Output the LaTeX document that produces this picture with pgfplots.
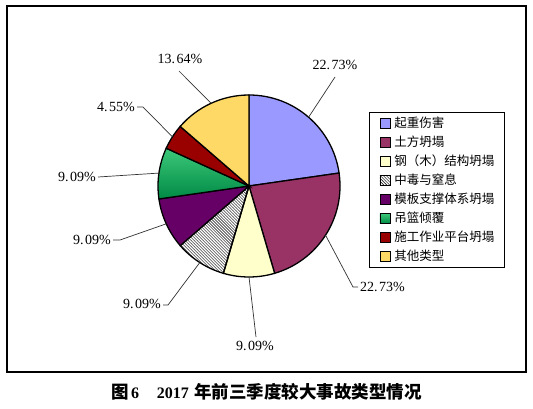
\documentclass[border=0pt]{standalone}
\usepackage{pgfplots}
\pgfplotsset{compat=1.18}
\usepackage{pgfplotstable}
\usepackage{fontspec}
\setmainfont{Liberation Serif}
\newfontfamily\cjk{Noto Sans CJK SC}
\usetikzlibrary{patterns}

\definecolor{c0}{HTML}{9999FF}
\definecolor{c1}{HTML}{993366}
\definecolor{c2}{HTML}{FFFFCC}
\definecolor{c4}{HTML}{660066}
\definecolor{c5a}{HTML}{3CC87A}
\definecolor{c5b}{HTML}{008A45}
\definecolor{c6}{HTML}{990000}
\definecolor{c7}{HTML}{FFD966}

\tikzset{
  slice0/.style={fill=c0},
  slice1/.style={fill=c1},
  slice2/.style={fill=c2},
  slice3/.style={pattern=north west lines},
  slice4/.style={fill=c4},
  slice5/.style={top color=c5a, bottom color=c5b},
  slice6/.style={fill=c6},
  slice7/.style={fill=c7},
}
\newcommand\labfont{\fontsize{14bp}{16bp}\selectfont}

% share of each accident type, plus leader-line elbow, end and label position (picture pixels, y down)
\pgfplotstableread[col sep=comma]{
name,value,ex,ey,fx,fy,lx,ly,anc
起重伤害,22.73,335,77,335,77,335,65,center
土方坍塌,22.73,353,287,358,287,360,287,west
钢（木）结构坍塌,9.09,256,337,256,337,255,346,center
中毒与窒息,9.09,168,305,163,305,161,304,east
模板支撑体系坍塌,9.09,120,240,113,240,111,240,east
吊篮倾覆,9.09,98,177,98,177,96,177,east
施工作业平台坍塌,4.55,143,107,137,107,135,107,east
其他类型,13.64,179,71,179,71,180,59,center
}\accidents

\pgfplotstablegetrowsof{\accidents}
\pgfmathtruncatemacro\nrows{\pgfplotsretval-1}
\def\total{0}
\pgfplotsforeachungrouped \i in {0,...,\nrows}{%
  \pgfplotstablegetelem{\i}{value}\of\accidents
  \pgfmathsetmacro\total{\total+\pgfplotsretval}%
}
\def\cum{90}
\pgfplotsforeachungrouped \i in {0,...,\nrows}{%
  \pgfplotstablegetelem{\i}{value}\of\accidents
  \expandafter\xdef\csname val\i\endcsname{\pgfplotsretval}%
  \pgfmathsetmacro\e{\cum-360*\pgfplotsretval/\total}%
  \pgfmathsetmacro\m{(\cum+\e)/2}%
  \expandafter\xdef\csname sa\i\endcsname{\cum}%
  \expandafter\xdef\csname ea\i\endcsname{\e}%
  \expandafter\xdef\csname ma\i\endcsname{\m}%
  \xdef\cum{\e}%
  \pgfplotsforeachungrouped \k in {name,ex,ey,fx,fy,lx,ly,anc}{%
    \pgfplotstablegetelem{\i}{\k}\of\accidents
    \expandafter\xdef\csname\k\i\endcsname{\pgfplotsretval}%
  }%
}

\begin{document}
\begin{tikzpicture}
\begin{axis}[
    x=1bp, y=1bp,
    xmin=0, xmax=533, ymin=0, ymax=408,
    hide axis, clip=false,
    legend cell align=left,
    legend image code/.code={\path[draw=black, line width=0.8bp, #1] (0bp,-5bp) rectangle (10bp,5bp);},
    legend style={at={(0.6923,0.7255)}, anchor=north west,
        draw=black, line width=1bp, fill=white,
        inner xsep=10bp, inner ysep=5bp,
        font=\cjk\fontsize{12.5bp}{14bp}\selectfont,
        column sep=4bp, row sep=7bp,
        nodes={inner sep=0pt, text height=9.5bp, text depth=2.5bp}},
]
\path (axis cs:0,0) rectangle (axis cs:533,408);
\draw[line width=1.3bp] (axis cs:7,402) rectangle (axis cs:526,36);

\pgfplotsinvokeforeach{0,...,\nrows}{
  \path[draw=black, line width=1.3bp, slice#1] (axis cs:249,222)
    -- (axis cs:{249+91*cos(\csname sa#1\endcsname)},{222+91*sin(\csname sa#1\endcsname)})
    arc[start angle=\csname sa#1\endcsname, end angle=\csname ea#1\endcsname, radius=91bp] -- cycle;
}
\pgfplotsinvokeforeach{0,...,\nrows}{
  \draw[line width=0.7bp, black!80]
    (axis cs:{249+91*cos(\csname ma#1\endcsname)},{222+91*sin(\csname ma#1\endcsname)})
    -- (axis cs:\csname ex#1\endcsname,{408-\csname ey#1\endcsname})
    -- (axis cs:\csname fx#1\endcsname,{408-\csname fy#1\endcsname});
  \node[anchor=\csname anc#1\endcsname, inner sep=0pt, font=\labfont]
    at (axis cs:\csname lx#1\endcsname,{408-\csname ly#1\endcsname})
    {\pgfmathprintnumber[fixed,fixed zerofill,precision=2,dec sep={.\kern1.5bp},assume math mode=true]{\csname val#1\endcsname}\%};
}
\pgfplotsinvokeforeach{0,...,\nrows}{
  \addlegendimage{slice#1}
  \addlegendentry{\csname name#1\endcsname}
}

\node[font=\fontsize{16bp}{20bp}\selectfont] at (axis cs:266.5,16)
  {{\cjk\bfseries\fontsize{17.5bp}{20bp}\selectfont 图}\kern2bp{\bfseries 6}\hspace{18bp}{\bfseries 2017}\kern5bp{\cjk\bfseries\fontsize{17.5bp}{20bp}\selectfont 年前三季度较大事故类型情况}};
\end{axis}
\end{tikzpicture}
\end{document}
